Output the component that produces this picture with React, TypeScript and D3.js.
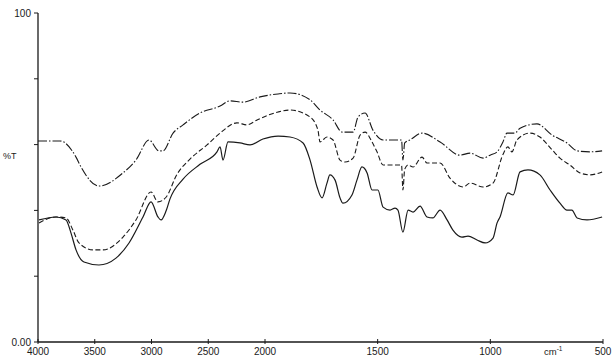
import React from "react";
import * as d3 from "d3";

const W = 612;
const H = 357;

// wavenumber ticks (cm-1) and %T ticks
const xTicks = [4000, 3500, 3000, 2500, 2000, 1500, 1000, 500];
const xTickLabels = ["4000", "3500", "3000", "2500", "2000", "1500", "1000", "500"];
const yTicks = [0, 20, 40, 60, 80, 100];

// Upper trace (dash-dot): [wavenumber, %T]
const traceTop: [number, number][] = [
  [4000, 61.1], [3806, 61.1], [3665, 56.2], [3621, 53.2], [3463, 47.4], [3251, 51.4],
  [3137, 55.3], [3022, 61.4], [2934, 58.1], [2899, 58.1], [2810, 63.5], [2722, 66.0],
  [2573, 69.6], [2396, 71.7], [2308, 73.3], [2194, 72.9], [2044, 74.5], [1942, 75.4],
  [1889, 75.7], [1800, 73.6], [1756, 70.5], [1698, 67.5], [1658, 63.8], [1609, 63.8],
  [1587, 68.4], [1556, 69.6], [1521, 64.4], [1476, 61.4], [1414, 61.4], [1394, 61.4],
  [1388, 55.3], [1380, 60.5], [1357, 61.4], [1303, 63.5], [1223, 60.8], [1135, 56.8],
  [1090, 57.4], [1032, 55.9], [1001, 56.8], [970, 57.8], [944, 60.8], [926, 63.5],
  [891, 63.5], [868, 65.0], [793, 66.3], [726, 62.9], [660, 60.5], [615, 58.1],
  [558, 57.8], [504, 58.1],
];

// Middle trace (dashed)
const traceMid: [number, number][] = [
  [3991, 36.2], [3841, 38.0], [3753, 37.7], [3692, 34.0], [3639, 30.1], [3515, 28.0],
  [3427, 28.0], [3251, 31.9], [3137, 37.1], [3004, 45.6], [2943, 42.6], [2872, 44.0],
  [2775, 51.0], [2661, 55.6], [2511, 59.9], [2396, 63.5], [2247, 66.6], [2158, 66.0],
  [2070, 67.5], [1942, 69.9], [1889, 70.5], [1800, 68.4], [1765, 64.4], [1756, 60.8],
  [1725, 62.3], [1698, 61.4], [1667, 55.3], [1645, 54.7], [1609, 55.9], [1578, 62.9],
  [1556, 63.8], [1525, 60.8], [1503, 57.8], [1476, 53.8], [1414, 53.8], [1394, 53.8],
  [1388, 46.2], [1380, 52.5], [1365, 53.8], [1343, 53.2], [1303, 56.2], [1281, 54.4],
  [1223, 54.4], [1179, 49.8], [1121, 47.1], [1090, 48.3], [1032, 47.1], [988, 48.3],
  [944, 57.0], [922, 59.3], [904, 57.8], [882, 61.4], [824, 63.5], [780, 62.3],
  [726, 58.4], [691, 55.9], [647, 53.8], [602, 51.4], [558, 50.8], [504, 51.7],
];

// Lower trace (solid)
const traceLow: [number, number][] = [
  [3991, 37.1], [3841, 38.0], [3753, 37.1], [3709, 33.1], [3665, 28.0], [3595, 24.3],
  [3463, 23.4], [3313, 25.5], [3198, 30.1], [3075, 38.0], [3004, 42.6], [2943, 38.0],
  [2916, 37.1], [2872, 39.8], [2837, 43.5], [2722, 49.5], [2573, 54.0], [2423, 57.8],
  [2396, 59.3], [2370, 55.3], [2326, 60.8], [2220, 60.5], [2132, 59.9], [2018, 61.7],
  [1942, 62.6], [1889, 62.3], [1831, 60.5], [1800, 55.3], [1769, 47.1], [1747, 43.8],
  [1725, 48.3], [1712, 50.8], [1689, 49.2], [1667, 43.8], [1654, 42.2], [1614, 44.7],
  [1592, 49.2], [1570, 53.2], [1547, 51.4], [1525, 46.2], [1499, 46.2], [1476, 41.0],
  [1445, 40.1], [1423, 40.7], [1410, 40.1], [1388, 33.4], [1365, 40.1], [1343, 39.5],
  [1312, 41.3], [1281, 38.0], [1255, 37.7], [1223, 40.1], [1192, 37.1], [1166, 34.0],
  [1126, 31.9], [1099, 32.2], [1059, 31.0], [1023, 30.1], [988, 31.6], [970, 36.2],
  [957, 38.0], [922, 45.3], [899, 44.7], [868, 51.7], [833, 52.3], [780, 50.8],
  [735, 46.2], [691, 42.2], [660, 40.1], [638, 40.1], [615, 37.7], [571, 37.1],
  [504, 38.0],
];

const x = d3.scaleLinear().domain([4000, 2000, 500]).range([38, 265, 603]);
const y = d3.scaleLinear().domain([0, 100]).range([342, 13]);

const line = d3
  .line<[number, number]>()
  .x((d) => x(d[0]))
  .y((d) => y(d[1]))
  .curve(d3.curveMonotoneX);

const INK = "#1a1a1a";
const FONT = "'Liberation Sans', Arial, Helvetica, sans-serif";

export default function App() {
  return (
    <svg
      width={W}
      height={H}
      viewBox={`0 0 ${W} ${H}`}
      style={{ position: "absolute", left: 0, top: 0, background: "#fff" }}
    >
      {/* traces */}
      <path d={line(traceTop) ?? ""} fill="none" stroke={INK} strokeWidth={1.1} strokeDasharray="9,2,1.5,2" />
      <path d={line(traceMid) ?? ""} fill="none" stroke={INK} strokeWidth={1.1} strokeDasharray="5,2.5" />
      <path d={line(traceLow) ?? ""} fill="none" stroke={INK} strokeWidth={1.2} />

      {/* y axis */}
      <line x1={x(4000)} x2={x(4000)} y1={y(100)} y2={y(0)} stroke={INK} strokeWidth={1.3} />
      {yTicks.map((t) => (
        <line key={t} x1={x(4000) - 4} x2={x(4000)} y1={y(t)} y2={y(t)} stroke={INK} strokeWidth={1} />
      ))}
      <text x={31} y={y(100)} dy="0.35em" textAnchor="end" fontFamily={FONT} fontSize={10} fill={INK}>
        100
      </text>
      <text x={31} y={y(0)} dy="0.35em" textAnchor="end" fontFamily={FONT} fontSize={10} fill={INK}>
        0.00
      </text>
      <text x={3} y={159} fontFamily={FONT} fontSize={9} fill={INK}>
        %T
      </text>

      {/* x axis */}
      <line x1={x(4000)} x2={x(500)} y1={y(0)} y2={y(0)} stroke={INK} strokeWidth={1.3} />
      {xTicks.map((t, i) => (
        <g key={t}>
          <line x1={x(t)} x2={x(t)} y1={y(0) - 3} y2={y(0) + 2} stroke={INK} strokeWidth={1} />
          <text x={x(t)} y={355} textAnchor="middle" fontFamily={FONT} fontSize={10} fill={INK}>
            {xTickLabels[i]}
          </text>
        </g>
      ))}
      <text x={544} y={355} fontFamily={FONT} fontSize={9.5} fill={INK}>
        cm
        <tspan dy={-4} fontSize={6.5}>-1</tspan>
      </text>
    </svg>
  );
}
